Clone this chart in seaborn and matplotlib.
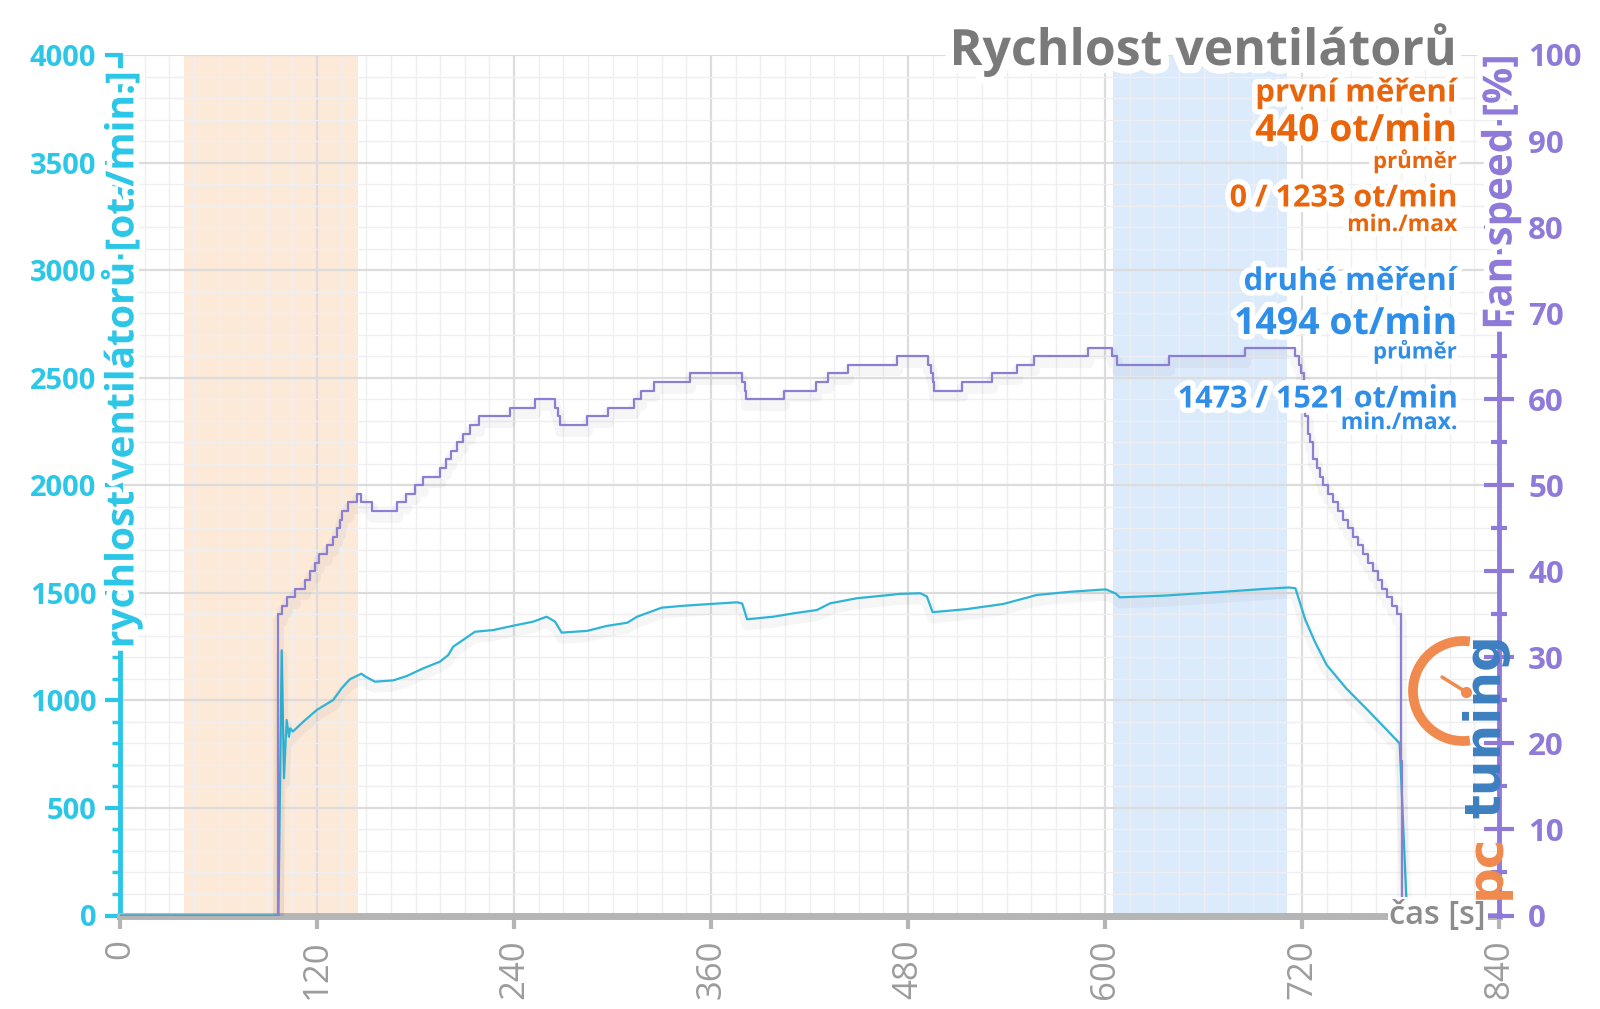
import numpy as np
import pandas as pd
import matplotlib
matplotlib.use("Agg")
import matplotlib.pyplot as plt
import matplotlib.patheffects as pe
from matplotlib.patches import Arc
import seaborn as sns

# ---------------- data ----------------
rpm_time = [0, 96.5, 98.5, 99.9, 101.5, 102.9, 103.7, 105.3, 111.7, 119.8, 129.9, 135, 140,
            147, 149.6, 155.3, 166.5, 174.6, 184.7, 194.9, 200, 203, 209, 216.2, 227.4,
            239.5, 251.7, 259.9, 265, 269, 284.5, 296.5, 309, 315, 330, 343.5, 359.5, 376,
            379, 382, 398, 410.5, 424.5, 432.5, 449, 465, 475, 487.5, 491.5, 495, 515.5,
            538, 558.5, 579, 600.5, 606.5, 609, 636, 666.5, 697, 712, 716, 722, 728, 735,
            747, 760, 772, 779.5, 784]
rpm_values = [0, 0, 1233, 638, 909, 831, 870, 855, 901, 955, 1002, 1056, 1098,
              1124, 1110, 1087, 1093, 1113, 1149, 1180, 1211, 1250, 1281, 1319, 1327,
              1347, 1366, 1389, 1366, 1315, 1323, 1346, 1361, 1389, 1431, 1440, 1448, 1456,
              1450, 1377, 1389, 1405, 1420, 1451, 1475, 1487, 1495, 1498, 1483, 1410, 1424,
              1448, 1490, 1505, 1516, 1497, 1479, 1487, 1502, 1518, 1525, 1521, 1375, 1270, 1165,
              1055, 955, 860, 800, 0]

fan_time = [0, 96.5, 98.5, 101.5, 106.5, 112.5, 115.5, 118.5, 121.5, 126, 130, 132, 134,
            135.5, 139, 144.5, 147, 153.5, 168.5, 174.5, 179.5, 184.5, 195, 198.5, 201.5,
            205, 209, 213, 218.5, 237.5, 252.5, 265, 267, 268, 284.5, 297, 313, 317.5,
            325.5, 347, 379, 380.5, 381.5, 404.5, 424, 431.5, 443.5, 473, 492, 494, 495,
            496, 513, 531, 546.5, 557, 589.5, 604, 607.5, 639, 685.5, 716, 718, 719.5,
            721, 722, 723.5, 725, 727, 729, 731, 733, 736, 739, 742, 745, 748, 751, 754,
            757, 760, 763, 766, 769, 772, 775, 778, 780, 781, 790]
fan_pct = [0, 35, 36, 37, 38, 39, 40, 41, 42, 43, 44, 45, 46,
           47, 48, 49, 48, 47, 48, 49, 50, 51, 52, 53, 54,
           55, 56, 57, 58, 59, 60, 59, 58, 57, 58, 59, 60, 61,
           62, 63, 62, 61, 60, 61, 62, 63, 64, 65, 64, 63, 62,
           61, 62, 63, 64, 65, 66, 65, 64, 65, 66, 65, 64, 63,
           60, 58, 56, 55, 53, 52, 51, 50, 49, 48, 47, 46, 45, 44, 43,
           42, 41, 40, 39, 38, 37, 36, 35, 18, 0, 0]

x_ticks = [0, 120, 240, 360, 480, 600, 720, 840]
rpm_ticks = [0, 500, 1000, 1500, 2000, 2500, 3000, 3500, 4000]
pct_ticks = [0, 10, 20, 30, 40, 50, 60, 70, 80, 90, 100]
first_band = (39, 145)
second_band = (605, 711)

title = "Rychlost ventilátorů"
left_label = "rychlost ventilátorů [ot./min.]"
right_label = "Fan speed [%]"
x_label = "čas [s]"
first_lines = ["první měření", "440 ot/min", "průměr", "0 / 1233 ot/min", "min./max"]
second_lines = ["druhé měření", "1494 ot/min", "průměr", "1473 / 1521 ot/min", "min./max."]

# ---------------- style ----------------
CYAN_AX = "#2cc6e6"
CYAN_LINE = "#2fb4d6"
PURPLE = "#8f7ad9"
PURPLE_LINE = "#8b7fd4"
GRAY = "#9c9c9c"
ORANGE = "#e8650c"
BLUE = "#2f8fe8"

sns.set_theme(style="white")
plt.rcParams['font.family'] = ['Open Sans', 'DejaVu Sans']

W, H = 1600, 1009
fig = plt.figure(figsize=(W / 100, H / 100), dpi=100)
fig.patch.set_facecolor("white")
ax = fig.add_axes([120 / W, 1 - 915.5 / H, (1499 - 120) / W, (915.5 - 55) / H])
ax2 = ax.twinx()

ax.set_xlim(0, 840)
ax.set_ylim(0, 4000)
ax2.set_ylim(0, 100)

# bands
ax.axvspan(*first_band, color="#fde9d8", zorder=0.2, lw=0)
ax.axvspan(*second_band, color="#dcebfc", zorder=0.2, lw=0)

# grid
ax.set_axisbelow(True)
ax.set_xticks(x_ticks)
ax.set_xticks(np.arange(0, 841, 15), minor=True)
ax.set_yticks(rpm_ticks)
ax.set_yticks(np.arange(0, 4001, 100), minor=True)
ax.grid(which="minor", color="#efeff2", lw=1.0)
ax.grid(which="major", color="#dcdcdc", lw=1.6)

# lines
glow = [pe.SimpleLineShadow(offset=(0, -4), shadow_color="#000000", alpha=0.035, linewidth=8),
        pe.Normal()]
sns.lineplot(x=rpm_time, y=rpm_values, ax=ax, color=CYAN_LINE, lw=1.6,
             sort=False, estimator=None, zorder=3, path_effects=glow)
sns.lineplot(x=fan_time, y=fan_pct, ax=ax2, color=PURPLE_LINE, lw=1.6,
             sort=False, estimator=None, drawstyle="steps-post", zorder=3, path_effects=glow)

ax.set_xlabel("")
ax.set_ylabel("")
ax2.set_ylabel("")

# spines
ax.spines["top"].set_visible(False)
ax2.spines["top"].set_visible(False)
ax.spines["right"].set_visible(False)
ax2.spines["left"].set_visible(False)
ax2.spines["bottom"].set_visible(False)
ax.spines["left"].set_color(CYAN_AX)
ax.spines["left"].set_linewidth(3.5)
ax.spines["bottom"].set_color("#b5b5b5")
ax.spines["bottom"].set_linewidth(5)
ax2.spines["right"].set_color(PURPLE)
ax2.spines["right"].set_linewidth(3.5)

# ticks
ax.tick_params(axis="y", which="major", colors=CYAN_AX, labelsize=21, width=3, length=11,
               direction="out", pad=6, left=True)
ax.tick_params(axis="y", which="minor", colors=CYAN_AX, width=2.5, length=6, direction="out", left=True)
for lbl in ax.get_yticklabels():
    lbl.set_fontweight("bold")
    lbl.set_color(CYAN_AX)
ax.tick_params(axis="x", which="major", colors="#b5b5b5", labelsize=25, width=3, length=9,
               direction="out", pad=8, bottom=True)
ax.tick_params(axis="x", which="minor", length=0)
ax.set_xticklabels([str(v) for v in x_ticks], rotation=90, color=GRAY)

ax2.set_yticks(pct_ticks)
ax2.set_yticks(np.arange(5, 100, 10), minor=True)
ax2.tick_params(axis="y", which="major", colors=PURPLE, labelsize=22.5, width=3, length=22,
                direction="inout", pad=10, right=True)
ax2.tick_params(axis="y", which="minor", colors=PURPLE, width=3, length=12,
                direction="inout", right=True)
for lbl in ax2.get_yticklabels():
    lbl.set_fontweight("bold")
    lbl.set_color(PURPLE)

white_glow = [pe.withStroke(linewidth=8, foreground="white")]

# axis labels
fig.text(121 / W, 1 - 72 / H, left_label, rotation=90, ha="center", va="top",
         color=CYAN_AX, fontsize=28, fontweight="bold", path_effects=white_glow)
fig.text(1501 / W, 1 - 55 / H, right_label, rotation=90, ha="center", va="top",
         color=PURPLE, fontsize=29, fontweight="bold", path_effects=white_glow)
fig.text(1486 / W, 1 - 915 / H, x_label, ha="right", va="center", color="#8c8c8c",
         fontsize=23.5, fontweight="semibold",
         bbox=dict(boxstyle="square,pad=0.05", fc="white", ec="none"))

# title + annotations
xr = 1457 / W
fig.text(xr, 1 - 65 / H, title, ha="right", va="baseline", color="#7a7a7a",
         fontsize=36, fontweight="bold",
         path_effects=[pe.withStroke(linewidth=12, foreground="white")])
sizes = [22.5, 27, 16, 22, 16.5]
first_base = [101.5, 141, 168, 206.5, 231]
second_base = [290, 334, 358.5, 407.5, 429]
for txt, sz, b in zip(first_lines, sizes, first_base):
    fig.text(xr, 1 - b / H, txt, ha="right", va="baseline", color=ORANGE,
             fontsize=sz, fontweight="bold", path_effects=white_glow)
for txt, sz, b in zip(second_lines, sizes, second_base):
    fig.text(xr, 1 - b / H, txt, ha="right", va="baseline", color=BLUE,
             fontsize=sz, fontweight="bold", path_effects=white_glow)

# logo
fig.text(1486 / W, 1 - 899 / H, "pc", rotation=90, ha="center", va="bottom",
         color="#f08a4e", fontsize=36, fontweight="bold", family="DejaVu Sans")
fig.text(1486 / W, 1 - 818 / H, "tuning", rotation=90, ha="center", va="bottom",
         color="#3d7fc0", fontsize=36, fontweight="bold", family="DejaVu Sans")
r = 50
arc = Arc((1463 / W, 1 - 691 / H), 2 * r / W, 2 * r / H, theta1=85, theta2=275,
          transform=fig.transFigure, color="#f08a4e", lw=7)
fig.add_artist(arc)
fig.add_artist(plt.Line2D([1442 / W, 1466 / W], [1 - 677 / H, 1 - 692 / H],
                          transform=fig.transFigure, color="#f08a4e", lw=2.5))
fig.add_artist(plt.Line2D([1466 / W], [1 - 692 / H], transform=fig.transFigure,
                          marker="o", ms=7, color="#f08a4e"))

fig.savefig("out.png", dpi=100, facecolor="white")
